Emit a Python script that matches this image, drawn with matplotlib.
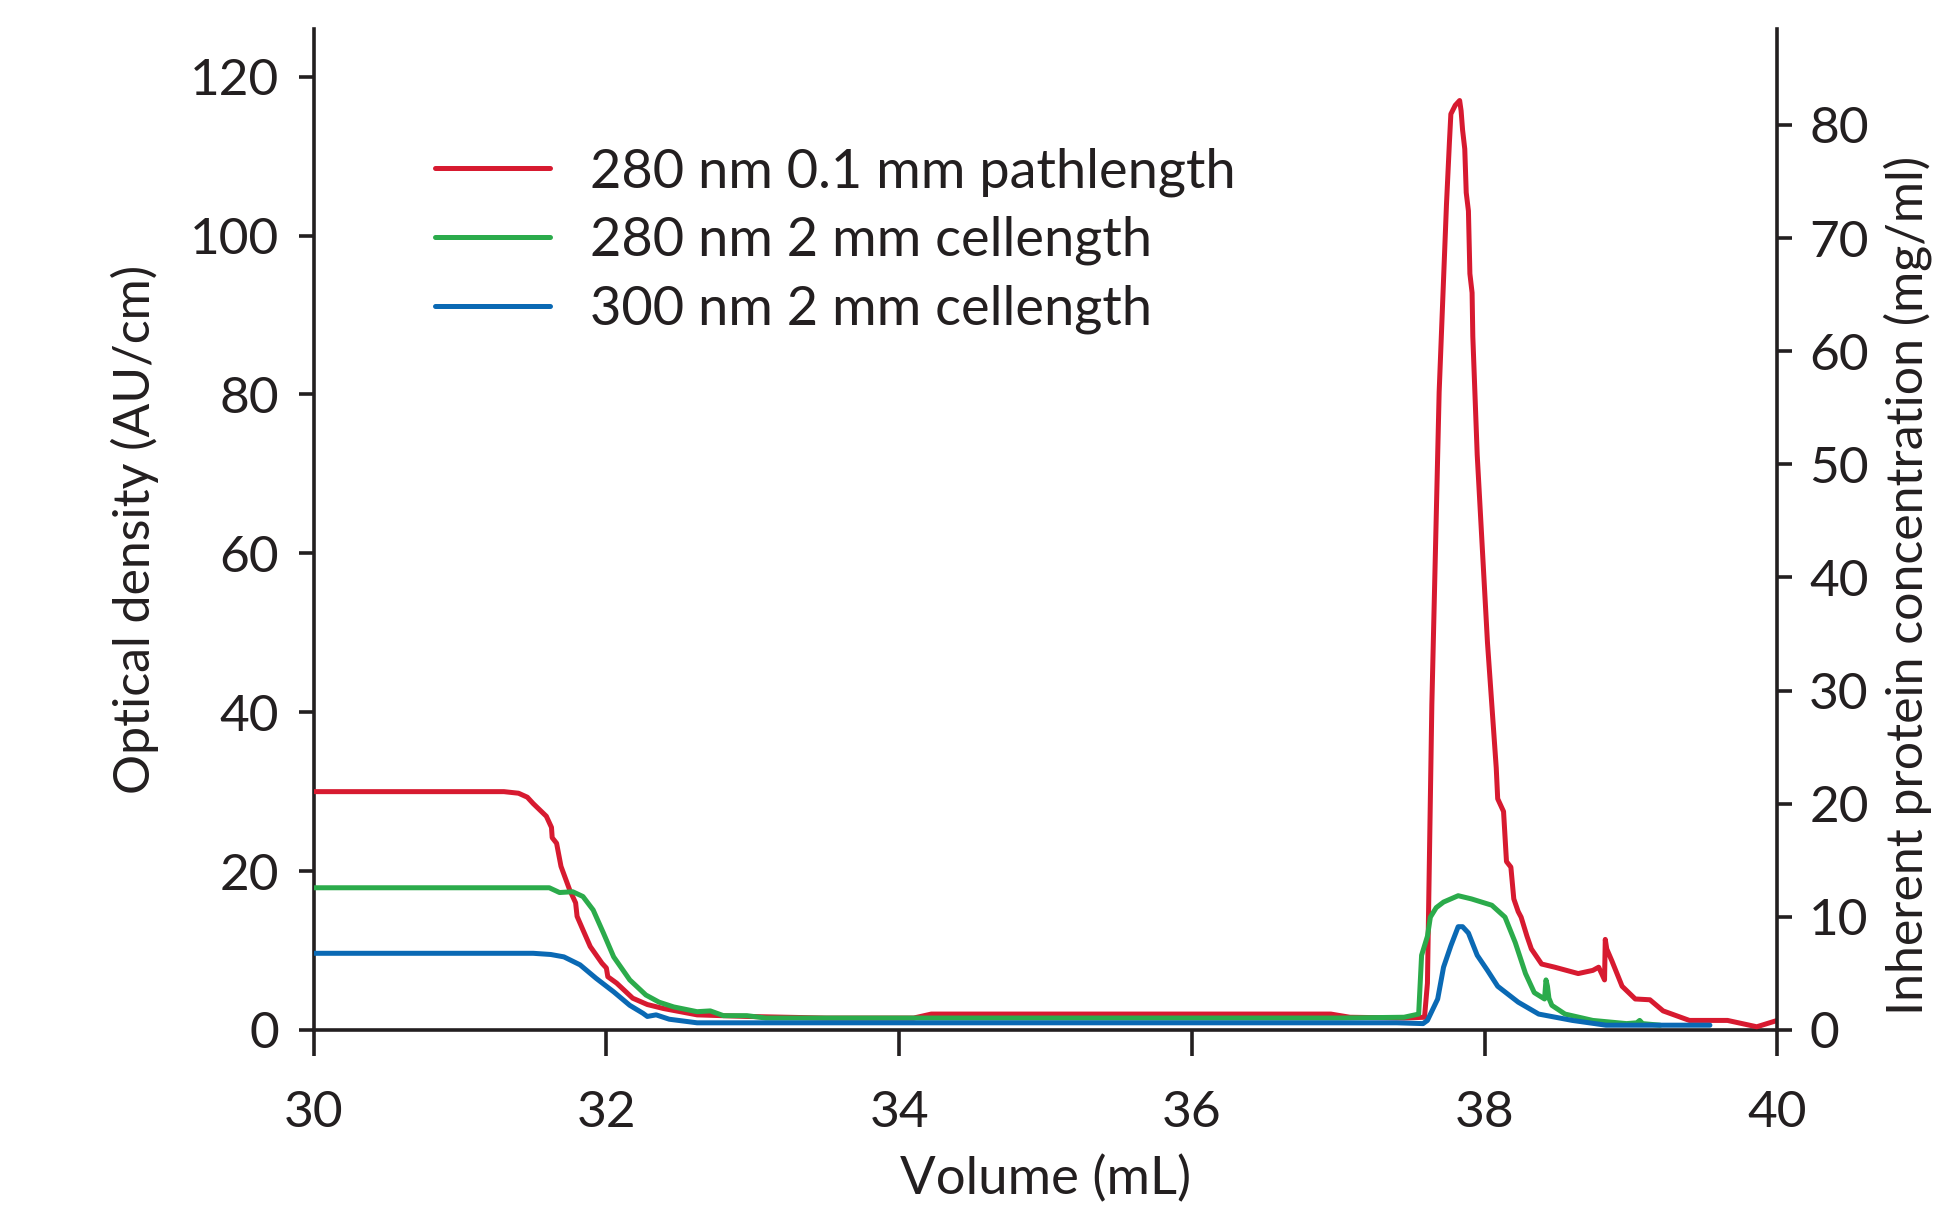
import matplotlib
matplotlib.use("Agg")
import matplotlib.pyplot as plt

plt.rcParams['font.family'] = ['Lato', 'DejaVu Sans']

# Volume (mL) / optical density (AU/cm)
red_x = [30.0, 31.30, 31.40, 31.46, 31.50, 31.59, 31.625, 31.63, 31.66, 31.69, 31.75,
         31.79, 31.80, 31.84, 31.89, 31.97, 32.00, 32.01, 32.07, 32.18, 32.28, 32.39,
         32.62, 32.96, 33.50, 34.10, 34.22, 35.00, 36.00, 36.95, 37.08, 37.45,
         37.59, 37.61, 37.64, 37.69, 37.74, 37.76, 37.77, 37.80, 37.83, 37.84,
         37.85, 37.865, 37.875, 37.89, 37.90, 37.915, 37.92, 37.95, 38.02, 38.08,
         38.09, 38.13, 38.15, 38.18, 38.20, 38.23, 38.25, 38.29, 38.32, 38.39,
         38.48, 38.64, 38.74, 38.78, 38.82, 38.825, 38.835, 38.87, 38.94, 39.03,
         39.13, 39.22, 39.40, 39.66, 39.86, 40.0]
red_y = [30.0, 30.0, 29.8, 29.3, 28.5, 26.9, 25.5, 24.2, 23.5, 20.6, 17.6,
         16.0, 14.3, 12.6, 10.5, 8.4, 7.8, 6.7, 5.9, 4.0, 3.2, 2.7,
         1.9, 1.7, 1.5, 1.5, 2.0, 2.0, 2.0, 2.0, 1.6, 1.5,
         1.6, 5.9, 40.9, 80.3, 103.9, 111.7, 115.3, 116.4, 117.0, 115.7,
         113.3, 110.9, 105.4, 103.1, 95.2, 92.8, 87.3, 72.4, 48.8, 33.0,
         29.1, 27.5, 21.2, 20.5, 16.5, 14.9, 14.2, 11.8, 10.2, 8.3,
         7.9, 7.1, 7.5, 7.9, 6.3, 11.4, 10.2, 8.7, 5.5, 3.9,
         3.8, 2.4, 1.2, 1.2, 0.4, 1.2]

green_x = [30.0, 31.61, 31.68, 31.77, 31.84, 31.91, 31.98, 32.05, 32.16, 32.27,
           32.36, 32.46, 32.62, 32.71, 32.80, 32.96, 33.09, 33.50, 35.00, 37.00,
           37.45, 37.55, 37.57, 37.61, 37.63, 37.67, 37.72, 37.82, 37.91, 38.05,
           38.14, 38.21, 38.28, 38.34, 38.41, 38.42, 38.43, 38.44, 38.46, 38.55,
           38.74, 38.97, 39.04, 39.06, 39.08, 39.20]
green_y = [17.9, 17.9, 17.3, 17.4, 16.8, 15.1, 12.2, 9.2, 6.3, 4.4,
           3.5, 2.9, 2.3, 2.4, 1.8, 1.8, 1.5, 1.5, 1.5, 1.5,
           1.6, 2.0, 9.4, 11.8, 14.2, 15.4, 16.1, 16.9, 16.5, 15.7,
           14.2, 11.0, 7.1, 4.7, 3.9, 6.3, 5.5, 4.0, 3.1, 2.0,
           1.2, 0.8, 0.9, 1.2, 0.8, 0.6]

blue_x = [30.0, 31.50, 31.62, 31.71, 31.82, 31.93, 32.05, 32.16, 32.25, 32.28,
          32.34, 32.43, 32.62, 33.00, 35.00, 37.40, 37.58, 37.61, 37.68, 37.72,
          37.77, 37.82, 37.85, 37.89, 37.95, 38.02, 38.09, 38.23, 38.37, 38.60,
          38.83, 39.54]
blue_y = [9.65, 9.65, 9.5, 9.2, 8.2, 6.5, 4.8, 3.1, 2.1, 1.7,
          1.9, 1.35, 0.9, 0.9, 0.9, 0.9, 0.8, 1.2, 3.9, 7.9,
          10.6, 13.0, 13.0, 12.2, 9.4, 7.5, 5.5, 3.5, 2.0, 1.2,
          0.6, 0.6]

labels = ["280 nm 0.1 mm pathlength", "280 nm 2 mm cellength", "300 nm 2 mm cellength"]
colors = ["#d71a30", "#2bab4b", "#0a69b4"]
x_ticks = [30, 32, 34, 36, 38, 40]
left_ticks = [0, 20, 40, 60, 80, 100, 120]
right_ticks = [0, 10, 20, 30, 40, 50, 60, 70, 80]

ink = "#231f20"
fig = plt.figure(figsize=(19.36, 12.14), dpi=100)
ax = fig.add_axes([0.162, 0.1516, 0.756, 0.8245])

for xs, ys, c, lab in zip([red_x, green_x, blue_x], [red_y, green_y, blue_y], colors, labels):
    ax.plot(xs, ys, color=c, lw=3.6, label=lab, solid_capstyle='round',
            solid_joinstyle='round', zorder=3)

ax.set_xlim(30, 40)
ax.set_ylim(0, 126)
ax.set_xticks(x_ticks)
ax.set_yticks(left_ticks)

# right axis: same baseline, 80 mg/ml sits at ~114 AU/cm
ax2 = ax.twinx()
ax2.set_ylim(0, 126 / 1.424)
ax2.set_yticks(right_ticks)

for a in (ax, ax2):
    for s in a.spines.values():
        s.set_linewidth(2.6)
        s.set_color(ink)
    a.spines['top'].set_visible(False)
ax.spines['right'].set_visible(False)
ax2.spines['left'].set_visible(False)
ax2.spines['bottom'].set_visible(False)

ax.tick_params(axis='y', direction='out', length=11, width=2.6, pad=14,
               labelsize=37, colors=ink)
ax.tick_params(axis='x', direction='out', length=19, width=2.6, pad=24,
               labelsize=37, colors=ink)
ax2.tick_params(axis='y', direction='out', length=11, width=2.6, pad=12,
                labelsize=37, colors=ink)

ax.set_xlabel("Volume (mL)", fontsize=38, color=ink, labelpad=14)
ax.set_ylabel("Optical density (AU/cm)", fontsize=36, color=ink, labelpad=22)
fig.text(0.998, 0.164, "Inherent protein concentration (mg/ml)", rotation=90,
         ha='right', va='bottom', fontsize=36, color=ink)

ax.legend(loc='upper left', bbox_to_anchor=(0.083, 0.882), frameon=False,
          fontsize=39, handlelength=2.13, handletextpad=0.73, labelspacing=0.355,
          borderpad=0, borderaxespad=0, labelcolor=ink)

fig.savefig("out.png", dpi=100)
